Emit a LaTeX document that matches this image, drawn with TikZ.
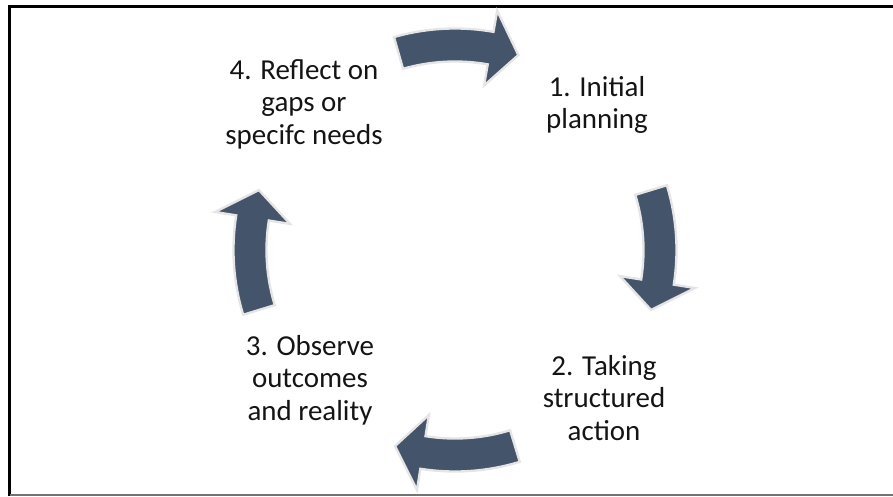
\documentclass[tikz,border=0pt]{standalone}
\usepackage{fontspec}
\setmainfont{Carlito}
\usepackage{tikz}
\definecolor{slate}{HTML}{44546A}

\begin{document}
\begin{tikzpicture}[x=0.03cm,y=0.03cm,
	stage/.style={align=center, text=black!92, font=\fontsize{24.7}{27.7}\selectfont},
	cyc/.style={fill=slate, draw=black!10, line width=0.07cm, line join=miter}]
	\useasboundingbox (0,0) rectangle (893,496);
	\draw[line width=0.09cm] (9.5,0) -- (9.5,489) -- (893,489);
	\draw[black!55, line width=0.06cm] (9.5,1.5) -- (893,1.5);
	\coordinate (c) at (455,246);
	\begin{scope}[shift={(c)}]
	\foreach \t [evaluate=\t as \ta using \t+17, evaluate=\t as \tb using \t-9,
	             evaluate=\t as \tc using \t-17] in {89,0,-90,180}
		\filldraw[cyc] (\ta:221.5) arc[start angle=\ta, end angle=\tb, radius=221.5]
			-- (\tb:243) -- (\tc:205) -- (\tb:167) -- (\tb:188.5)
			arc[start angle=\tb, end angle=\ta, radius=188.5] -- cycle;
	\end{scope}
	\node[stage] (plan) at (597,391) {1. Initial\\planning};
	\node[stage] (act) at (604,98) {2. Taking\\structured\\action};
	\node[stage] (obs) at (310,116) {3. Observe\\outcomes\\and reality};
	\node[stage] (refl) at (304,392) {4. Reflect on\\gaps or\\specifc needs};
\end{tikzpicture}
\end{document}
